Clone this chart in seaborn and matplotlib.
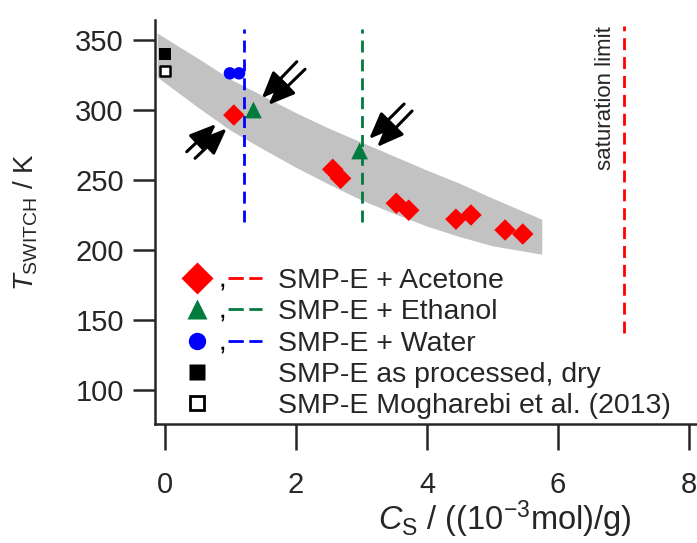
import numpy as np
import pandas as pd
import matplotlib
matplotlib.use("Agg")
import matplotlib.pyplot as plt
import seaborn as sns
from matplotlib.lines import Line2D
from matplotlib.legend_handler import HandlerTuple
from matplotlib.textpath import TextPath
from matplotlib.font_manager import FontProperties
from matplotlib.path import Path

# ---------------- data ----------------
acetone_x = [1.05, 2.56, 2.68, 3.53, 3.72, 4.44, 4.67, 5.19, 5.46]
acetone_y = [296.4, 257.6, 251.2, 233.4, 228.4, 222.0, 225.0, 214.3, 211.4]
ethanol_x = [1.35, 2.97]
ethanol_y = [300.0, 270.7]
water_x = [0.99, 1.13]
water_y = [326.2, 326.2]
dry_x = [0.0]
dry_y = [339.8]
lit_x = [0.0]
lit_y = [328.0]

# grey guide band (upper / lower edges)
band_x = [-0.12, 0.5, 1.0, 1.5, 2.0, 2.5, 3.0, 3.5, 4.0, 4.5, 5.0, 5.5, 5.75]
band_upper = [355.0, 337.0, 322.0, 310.0, 298.0, 287.0, 277.0, 267.0, 257.0, 247.6, 237.0, 227.0, 222.0]
band_lower = [323.6, 302.0, 285.5, 272.0, 259.0, 247.0, 235.7, 226.0, 217.0, 209.5, 203.0, 199.0, 197.0]

# vertical dashed lines: solvent concentration (x), y-extent
water_cs, water_line_y = 1.2, (220.2, 357.6)
ethanol_cs, ethanol_line_y = 3.0, (220.2, 357.6)
sat_limit, sat_line_y = 7.0, (140.5, 360.0)

# arrows: (tail_x, tail_y, tip_x, tip_y)
arrows = [
    (0.331, 270.2, 0.779, 290.0),
    (0.458, 265.5, 0.942, 286.9),
    (2.011, 334.5, 1.476, 308.4),
    (2.137, 329.1, 1.577, 303.6),
    (3.649, 304.3, 3.115, 279.3),
    (3.771, 299.3, 3.237, 273.6),
]

x_ticks = [0, 2, 4, 6, 8]
y_ticks = [100, 150, 200, 250, 300, 350]

labels = ["SMP-E + Acetone", "SMP-E + Ethanol", "SMP-E + Water",
          "SMP-E as processed, dry", "SMP-E Mogharebi et al. (2013)"]

RED = "#ff0000"
GREEN = "#007a3d"
BLUE = "#0000ff"

# ---------------- style ----------------
sns.set_theme(style="ticks")
plt.rcParams["font.family"] = ["Liberation Sans", "DejaVu Sans"]
plt.rcParams["mathtext.fontset"] = "custom"
plt.rcParams["mathtext.rm"] = "Liberation Sans"
plt.rcParams["mathtext.it"] = "Liberation Sans:italic"
plt.rcParams["mathtext.bf"] = "Liberation Sans:bold"

FS_TICK = 21
FS_XLAB = 23.5
FS_YLAB = 20
FS_LEG = 20.5

fig = plt.figure(figsize=(6.97, 5.43), dpi=100)
ax = fig.add_axes([155 / 697, 119 / 543, 542 / 697, 404 / 543])

# band
ax.fill_between(band_x, band_lower, band_upper, color="#c2c2c2", lw=0, zorder=1)

# vertical lines
dash = (0, (4.3, 2.5))
ax.plot([water_cs, water_cs], water_line_y, color=BLUE, lw=2, ls=dash, zorder=2)
ax.plot([ethanol_cs, ethanol_cs], ethanol_line_y, color=GREEN, lw=2, ls=dash, zorder=2)
ax.plot([sat_limit, sat_limit], sat_line_y, color=RED, lw=2, ls=dash, zorder=2)

# data points
sns.scatterplot(x=acetone_x, y=acetone_y, marker="D", s=120, color=RED, edgecolor="none", ax=ax, zorder=4)
sns.scatterplot(x=ethanol_x, y=ethanol_y, marker="^", s=145, color=GREEN, edgecolor="none", ax=ax, zorder=4)
sns.scatterplot(x=water_x, y=water_y, marker="o", s=80, color=BLUE, edgecolor="none", ax=ax, zorder=4)
sns.scatterplot(x=dry_x, y=dry_y, marker="s", s=72, color="black", edgecolor="none", ax=ax, zorder=4, clip_on=False)
sns.scatterplot(x=lit_x, y=lit_y, marker="s", s=55, color="white", edgecolor="black", linewidth=1.8, ax=ax, zorder=4, clip_on=False)

# arrows
for tx, ty, hx, hy in arrows:
    ax.annotate("", xy=(hx, hy), xytext=(tx, ty),
                arrowprops=dict(arrowstyle="-|>,head_length=0.62,head_width=0.25",
                                lw=2.2, color="black", shrinkA=0, shrinkB=0,
                                mutation_scale=26), zorder=5)

ax.text(6.72, 360, "saturation limit", rotation=90, ha="center", va="top", fontsize=16)

# axes
ax.set_xlim(-0.153, 8.12)
ax.set_ylim(75.7, 364.3)
ax.set_xticks(x_ticks)
ax.set_yticks(y_ticks)
ax.tick_params(axis="y", labelsize=FS_TICK, length=15.5, width=1.8, pad=7, direction="out")
ax.tick_params(axis="x", labelsize=FS_TICK, length=19, width=1.8, pad=15, direction="out")
for s in ["top", "right"]:
    ax.spines[s].set_visible(False)
for s in ["left", "bottom"]:
    ax.spines[s].set_linewidth(1.8)

ax.set_xlabel(r"$C_\mathrm{S}$ / ((10$^{-3}$mol)/g)", fontsize=FS_XLAB)
ax.set_ylabel(r"$T_\mathrm{SWITCH}$ / K", fontsize=FS_YLAB)
ax.xaxis.set_label_coords(0.645, -0.185)
ax.yaxis.set_label_coords(-0.212, 0.5)

# legend
_tp = TextPath((0, 0), ",", size=1, prop=FontProperties(family="Liberation Sans"))
_v = _tp.vertices.copy()
_v[:, 0] -= (_v[:, 0].min() + _v[:, 0].max()) / 2
_v[:, 1] -= 0.29
COMMA_PATH = Path.make_compound_path(Path([(0, 0.5)], [Path.MOVETO]), Path(_v, _tp.codes))


def comma():
    return Line2D([], [], marker=COMMA_PATH, ls="none", color="black", mec="none", ms=FS_LEG)


def blank():
    return Line2D([], [], ls="none", marker="none")


ldash = (0, (5.5, 2.0))
handles = [
    (Line2D([], [], marker="D", ls="none", color=RED, ms=16.5, mec="none"), comma(),
     Line2D([], [], color=RED, lw=2, ls=ldash)),
    (Line2D([], [], marker="^", ls="none", color=GREEN, ms=15, mec="none"), comma(),
     Line2D([], [], color=GREEN, lw=2, ls=ldash)),
    (Line2D([], [], marker="o", ls="none", color=BLUE, ms=12.5, mec="none"), comma(),
     Line2D([], [], color=BLUE, lw=2, ls=ldash)),
    (Line2D([], [], marker="s", ls="none", color="black", ms=12, mec="none"), blank(), blank()),
    (Line2D([], [], marker="s", ls="none", color="white", ms=10.5, mec="black", mew=2), blank(), blank()),
]
fs_px = FS_LEG * 100 / 72
leg = ax.legend(handles, labels, loc="upper left", bbox_to_anchor=(0.0461, 0.386),
                frameon=False, fontsize=FS_LEG, borderpad=0, borderaxespad=0,
                handlelength=81.7 / fs_px, handletextpad=16.6 / fs_px, labelspacing=0.185,
                handler_map={tuple: HandlerTuple(ndivide=None, pad=-9.25 / fs_px)})

fig.savefig("out.png", dpi=100)
